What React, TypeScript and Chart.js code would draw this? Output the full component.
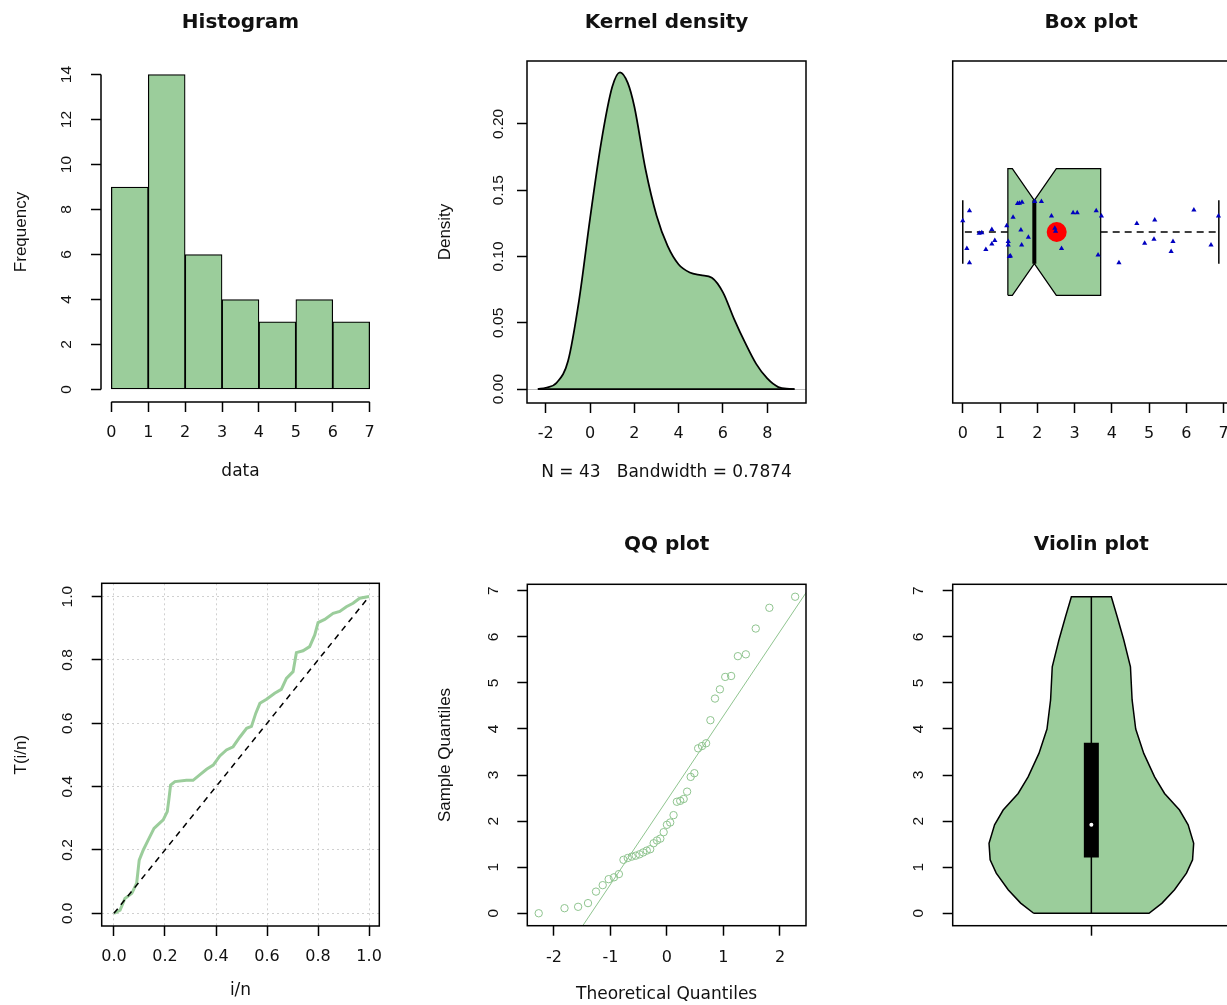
import React, { useEffect, useRef } from 'react';
import { Chart, registerables } from 'chart.js';

Chart.register(...registerables);

// ---------------- data ----------------
const histBreaks = [0, 1, 2, 3, 4, 5, 6, 7];
const histCounts = [9, 14, 6, 4, 3, 4, 3];
const histXTicks = [0, 1, 2, 3, 4, 5, 6, 7];
const histYTicks = [0, 2, 4, 6, 8, 10, 12, 14];

const densX = [-2.36, -2.0, -1.5, -1.0, -0.5, 0.0, 0.5, 1.0, 1.35, 1.7, 2.0, 2.5, 3.0, 3.5, 4.0, 4.5, 5.0, 5.5, 6.0, 6.5, 7.0, 7.5, 8.0, 8.5, 9.0, 9.23];
const densY = [0.0, 0.001, 0.005, 0.021, 0.067, 0.129, 0.186, 0.228, 0.239, 0.231, 0.213, 0.166, 0.131, 0.108, 0.094, 0.088, 0.086, 0.084, 0.073, 0.053, 0.035, 0.019, 0.008, 0.0015, 0.0002, 0.0];
const densXTicks = [-2, 0, 2, 4, 6, 8];
const densYTicks = [0, 0.05, 0.1, 0.15, 0.2];
const densSub = 'N = 43   Bandwidth = 0.7874';

// min, q1, notch low, median, notch high, q3, max
const boxStats = [0.0, 1.21, 1.33, 1.92, 2.51, 3.7, 6.87];
const boxMean = [2.52];
const jitterX = [0.18, 0.0, 0.11, 0.18, 0.51, 0.62, 0.78, 0.78, 0.86, 1.18, 1.22, 1.22, 1.28, 1.35, 1.52, 1.59, 1.56, 1.58, 1.76, 1.93, 2.11, 2.38, 2.47, 2.65, 2.96, 3.07, 3.58, 3.72, 3.63, 4.19, 4.67, 5.15, 4.88, 5.13, 5.64, 5.59, 6.2, 6.66, 6.86, 0.44, 2.49, 1.25, 1.47];
const jitterY = [0.562, 0.533, 0.452, 0.41, 0.498, 0.449, 0.507, 0.465, 0.475, 0.518, 0.472, 0.462, 0.43, 0.543, 0.584, 0.587, 0.506, 0.462, 0.485, 0.589, 0.589, 0.547, 0.511, 0.452, 0.556, 0.556, 0.562, 0.547, 0.433, 0.41, 0.525, 0.535, 0.467, 0.479, 0.472, 0.443, 0.564, 0.462, 0.547, 0.496, 0.502, 0.428, 0.583];
const boxXTicks = [0, 1, 2, 3, 4, 5, 6, 7];

const tttX = [0, 0.024, 0.043, 0.07, 0.089, 0.099, 0.115, 0.134, 0.157, 0.178, 0.193, 0.209, 0.215, 0.222, 0.239, 0.284, 0.31, 0.336, 0.363, 0.389, 0.415, 0.441, 0.467, 0.493, 0.52, 0.539, 0.556, 0.572, 0.598, 0.63, 0.656, 0.676, 0.702, 0.715, 0.741, 0.767, 0.787, 0.8, 0.826, 0.859, 0.885, 0.911, 0.937, 0.963, 1.0];
const tttY = [0, 0.01, 0.047, 0.063, 0.095, 0.168, 0.2, 0.231, 0.268, 0.284, 0.295, 0.321, 0.358, 0.405, 0.416, 0.42, 0.42, 0.437, 0.455, 0.468, 0.497, 0.516, 0.526, 0.556, 0.584, 0.59, 0.632, 0.663, 0.676, 0.695, 0.707, 0.742, 0.763, 0.823, 0.829, 0.842, 0.879, 0.918, 0.928, 0.947, 0.953, 0.968, 0.979, 0.995, 1.0];
const tttRef = [0, 1];
const tttTicks = [0, 0.2, 0.4, 0.6, 0.8, 1.0];

const qqTheo = [-2.268, -1.812, -1.571, -1.396, -1.255, -1.136, -1.031, -0.937, -0.85, -0.769, -0.693, -0.621, -0.552, -0.485, -0.42, -0.357, -0.296, -0.235, -0.176, -0.117, -0.058, 0, 0.058, 0.117, 0.176, 0.235, 0.296, 0.357, 0.42, 0.485, 0.552, 0.621, 0.693, 0.769, 0.85, 0.937, 1.031, 1.136, 1.255, 1.396, 1.571, 1.812, 2.268];
const qqSample = [0.0, 0.11, 0.14, 0.22, 0.47, 0.61, 0.74, 0.78, 0.85, 1.16, 1.2, 1.23, 1.25, 1.28, 1.32, 1.36, 1.39, 1.52, 1.58, 1.62, 1.76, 1.92, 1.97, 2.13, 2.42, 2.44, 2.48, 2.64, 2.96, 3.04, 3.58, 3.63, 3.69, 4.19, 4.66, 4.86, 5.13, 5.15, 5.58, 5.62, 6.18, 6.63, 6.87];
const qqLineX = [-2.5, 2.5];
const qqLineY = [-2.12, 7.03];
const qqXTicks = [-2, -1, 0, 1, 2];
const qqYTicks = [0, 1, 2, 3, 4, 5, 6, 7];

const violinY = [0, 0.22, 0.51, 0.87, 1.16, 1.52, 1.92, 2.24, 2.6, 2.96, 3.47, 4.0, 4.63, 5.35, 5.93, 6.44, 6.87];
const violinHalf = [0.208, 0.255, 0.3, 0.343, 0.365, 0.369, 0.349, 0.318, 0.264, 0.228, 0.189, 0.16, 0.147, 0.141, 0.117, 0.093, 0.072];
const violinBox = [1.21, 1.92, 3.7]; // q1, median, q3
const violinYTicks = [0, 1, 2, 3, 4, 5, 6, 7];
const violinXTicks = [1];

// ---------------- styling ----------------
const FONT = 'DejaVu Sans';
const VFONT = 'Liberation Sans';
const GREEN = '#9BCD9B';
const QQGREEN = '#8FC48F';
const TXT = '#111';

Chart.defaults.font.family = FONT;

type AxisOpts = {
  min: number; max: number; ticks: number[]; fmt?: (v: number) => string;
  size: number; tickPad: number; title?: string; titlePad?: number;
  vertical?: boolean; grid?: { color: any; dash: number[] }; hidden?: boolean;
};

function axis(o: AxisOpts) {
  return {
    type: 'linear',
    display: !o.hidden,
    min: o.min,
    max: o.max,
    offset: false,
    afterBuildTicks: (s: any) => {
      s.ticks = o.ticks.map((v) => ({ value: v }));
      s.min = o.min;
      s.max = o.max;
    },
    afterFit: (s: any) => {
      if (o.vertical) s.width = o.size; else s.height = o.size;
    },
    grid: {
      offset: false,
      drawOnChartArea: !!o.grid,
      color: o.grid ? o.grid.color : 'rgba(0,0,0,0)',
      lineWidth: 1,
      drawTicks: true,
      tickLength: 10,
      tickColor: '#000',
      tickWidth: 1.5,
    },
    border: { display: false, dash: o.grid ? o.grid.dash : [] },
    ticks: {
      autoSkip: false,
      padding: o.tickPad,
      color: TXT,
      font: o.vertical ? { family: VFONT, size: 15.5 } : { family: FONT, size: 16 },
      minRotation: o.vertical ? 90 : 0,
      maxRotation: o.vertical ? 90 : 0,
      crossAlign: o.vertical ? 'center' : 'near',
      callback: (v: any) => (o.fmt ? o.fmt(Number(v)) : String(v)),
    },
    title: o.title
      ? {
          display: true,
          text: o.title,
          color: TXT,
          font: o.vertical ? { family: VFONT, size: 17 } : { family: FONT, size: 17 },
          padding: o.vertical ? { top: o.titlePad, bottom: 0 } : { top: 0, bottom: o.titlePad },
        }
      : { display: false },
  };
}

const rFrame = {
  id: 'rFrame',
  afterDraw(chart: any, _a: any, opts: any) {
    const { ctx, chartArea: a } = chart;
    ctx.save();
    ctx.strokeStyle = '#000';
    ctx.lineWidth = 1.5;
    if (opts.box) {
      ctx.strokeRect(a.left, a.top, a.right - a.left, a.bottom - a.top);
    } else {
      const x = chart.scales.x;
      const y = chart.scales.y;
      const xs = x.ticks;
      const ys = y.ticks;
      ctx.beginPath();
      ctx.moveTo(x.getPixelForValue(xs[0].value), a.bottom);
      ctx.lineTo(x.getPixelForValue(xs[xs.length - 1].value), a.bottom);
      ctx.moveTo(a.left, y.getPixelForValue(ys[0].value));
      ctx.lineTo(a.left, y.getPixelForValue(ys[ys.length - 1].value));
      ctx.stroke();
    }
    ctx.restore();
  },
};

function baseOptions(p: any) {
  return {
    responsive: false,
    animation: false,
    devicePixelRatio: 1,
    events: [],
    layout: { padding: p.padding, autoPadding: false },
    plugins: {
      legend: { display: false },
      tooltip: { enabled: false },
      title: p.title
        ? {
            display: true,
            text: p.title.text,
            fullSize: false,
            color: TXT,
            font: { family: FONT, size: 20, weight: 'bold' },
            padding: { top: p.title.top, bottom: p.title.bottom },
          }
        : { display: false },
      rFrame: p.frame,
    },
    scales: { x: p.x, y: p.y },
  };
}

const lineDs = (data: any[], color: string, width: number, extra: any = {}) => ({
  data, showLine: true, borderColor: color, borderWidth: width, pointRadius: 0, tension: 0, fill: false, ...extra,
});

// ---------------- panel configs ----------------
function histConfig() {
  const data = histCounts.map((c, i) => ({ x: (histBreaks[i] + histBreaks[i + 1]) / 2, y: c }));
  return {
    type: 'bar',
    data: {
      datasets: [{
        data, backgroundColor: GREEN, borderColor: '#000', borderWidth: 1.25,
        borderSkipped: false, barPercentage: 1, categoryPercentage: 1,
      }],
    },
    options: baseOptions({
      padding: { left: 0, top: 0, right: 29, bottom: 0 },
      title: { text: 'Histogram', top: 11, bottom: 27 },
      frame: { box: false },
      x: axis({ min: -0.28, max: 7.28, ticks: histXTicks, size: 98, tickPad: 11, title: 'data', titlePad: 17.8 }),
      y: axis({ min: -0.56, max: 14.56, ticks: histYTicks, size: 101, tickPad: 15.4, title: 'Frequency', titlePad: 10.8, vertical: true }),
    }),
  };
}

function densConfig() {
  const pts = densX.map((x, i) => ({ x, y: densY[i] }));
  const base = [{ x: densX[0], y: 0 }, { x: densX[densX.length - 1], y: 0 }];
  return {
    type: 'scatter',
    data: {
      datasets: [
        lineDs(base, '#000', 1.75),
        lineDs(pts, '#000', 1.75, { fill: 'origin', backgroundColor: GREEN, cubicInterpolationMode: 'monotone' }),
      ],
    },
    options: baseOptions({
      padding: { left: 0, top: 0, right: 12, bottom: 0 },
      title: { text: 'Kernel density', top: 11, bottom: 26 },
      frame: { box: true },
      x: axis({ min: -2.85, max: 9.75, ticks: densXTicks, size: 97, tickPad: 11, title: densSub, titlePad: 16.8 }),
      y: axis({
        min: -0.0105, max: 0.2475, ticks: densYTicks, fmt: (v) => v.toFixed(2), size: 118, tickPad: 3,
        title: 'Density', titlePad: 25.8, vertical: true,
        grid: { color: (c: any) => (c.tick && c.tick.value === 0 ? '#bdbdbd' : 'rgba(0,0,0,0)'), dash: [] },
      }),
    }),
  };
}

function boxConfig() {
  const [mn, q1, nLo, med, nHi, q3, mx] = boxStats;
  const c = 0.5, h = 0.185, nh = 0.0925;
  const poly = [
    { x: q1, y: c - h }, { x: q1, y: c + h }, { x: nLo, y: c + h }, { x: med, y: c + nh },
    { x: nHi, y: c + h }, { x: q3, y: c + h }, { x: q3, y: c - h }, { x: nHi, y: c - h },
    { x: med, y: c - nh }, { x: nLo, y: c - h }, { x: q1, y: c - h },
  ];
  const jitter = jitterX.map((x, i) => ({ x, y: jitterY[i] }));
  return {
    type: 'scatter',
    data: {
      datasets: [
        { data: jitter, pointStyle: 'triangle', pointRadius: 3, backgroundColor: '#0000C0', borderColor: '#0000C0', borderWidth: 0 },
        { data: boxMean.map((x) => ({ x, y: c })), pointRadius: 10, backgroundColor: '#FF0000', borderWidth: 0 },
        lineDs([{ x: med, y: c - nh }, { x: med, y: c + nh }], '#000', 4),
        lineDs(poly, '#000', 1.25, { fill: 'shape', backgroundColor: GREEN }),
        lineDs([{ x: mn, y: c - nh }, { x: mn, y: c + nh }], '#000', 1.5),
        lineDs([{ x: mx, y: c - nh }, { x: mx, y: c + nh }], '#000', 1.5),
        lineDs([{ x: q1, y: c }, { x: mn, y: c }], '#000', 1.5, { borderDash: [7, 5] }),
        lineDs([{ x: q3, y: c }, { x: mx, y: c }], '#000', 1.5, { borderDash: [7, 5] }),
      ],
    },
    options: baseOptions({
      padding: { left: 134.7, top: 0, right: 10, bottom: 0 },
      title: { text: 'Box plot', top: 11, bottom: 26 },
      frame: { box: true },
      x: axis({ min: -0.27, max: 7.16, ticks: boxXTicks, size: 97, tickPad: 11 }),
      y: axis({ min: 0, max: 1, ticks: [0, 1], size: 0, tickPad: 0, vertical: true, hidden: true }),
    }),
  };
}

function tttConfig() {
  const pts = tttX.map((x, i) => ({ x, y: tttY[i] }));
  const ref = tttRef.map((v) => ({ x: v, y: v }));
  const grid = { color: '#d0d0d0', dash: [2, 3] };
  return {
    type: 'scatter',
    data: {
      datasets: [
        lineDs(ref, '#000', 1.5, { borderDash: [6, 5] }),
        lineDs(pts, GREEN, 3),
      ],
    },
    options: baseOptions({
      padding: { left: 0, top: 83.3, right: 29.7, bottom: 0 },
      title: null,
      frame: { box: true },
      x: axis({ min: -0.048, max: 1.04, ticks: tttTicks, fmt: (v) => v.toFixed(1), size: 79, tickPad: 10.9, title: 'i/n', titlePad: 3.8, grid }),
      y: axis({ min: -0.04, max: 1.042, ticks: tttTicks, fmt: (v) => v.toFixed(1), size: 101.7, tickPad: 13.2, title: 'T(i/n)', titlePad: 10.8, vertical: true, grid }),
    }),
  };
}

function qqConfig() {
  const pts = qqTheo.map((x, i) => ({ x, y: qqSample[i] }));
  const line = qqLineX.map((x, i) => ({ x, y: qqLineY[i] }));
  return {
    type: 'scatter',
    data: {
      datasets: [
        { data: pts, pointStyle: 'circle', pointRadius: 3.7, backgroundColor: 'rgba(0,0,0,0)', borderColor: QQGREEN, borderWidth: 1 },
        lineDs(line, QQGREEN, 1),
      ],
    },
    options: baseOptions({
      padding: { left: 0, top: 0, right: 12, bottom: 0 },
      title: { text: 'QQ plot', top: 33, bottom: 27.3 },
      frame: { box: true },
      x: axis({ min: -2.47, max: 2.46, ticks: qqXTicks, size: 79.3, tickPad: 12.2, title: 'Theoretical Quantiles', titlePad: 0.5 }),
      y: axis({ min: -0.27, max: 7.14, ticks: qqYTicks, size: 118.3, tickPad: 19.7, title: 'Sample Quantiles', titlePad: 25.8, vertical: true }),
    }),
  };
}

function violinConfig() {
  const left = violinY.map((y, i) => ({ x: 1 - violinHalf[i], y }));
  const right = violinY.map((y, i) => ({ x: 1 + violinHalf[i], y })).reverse();
  const poly = [...left, ...right, left[0]];
  const [q1, med, q3] = violinBox;
  return {
    type: 'scatter',
    data: {
      datasets: [
        { data: [{ x: 1, y: med }], pointStyle: 'circle', pointRadius: 2, backgroundColor: '#fff', borderWidth: 0 },
        lineDs([{ x: 1, y: q1 }, { x: 1, y: q3 }], '#000', 15),
        lineDs([{ x: 1, y: violinY[0] }, { x: 1, y: violinY[violinY.length - 1] }], '#000', 1.5),
        lineDs(poly, '#000', 1.5, { fill: 'shape', backgroundColor: GREEN }),
      ],
    },
    options: baseOptions({
      padding: { left: 0, top: 0, right: 10, bottom: 0 },
      title: { text: 'Violin plot', top: 33, bottom: 27.3 },
      frame: { box: true },
      x: axis({ min: 0.5, max: 1.5, ticks: violinXTicks, fmt: () => '', size: 79.3, tickPad: 12.2 }),
      y: axis({ min: -0.27, max: 7.14, ticks: violinYTicks, size: 134.7, tickPad: 19.7, vertical: true }),
    }),
  };
}

// ---------------- components ----------------
function Panel(props: { left: number; top: number; width: number; height: number; build: () => any }) {
  const ref = useRef<HTMLCanvasElement>(null);
  useEffect(() => {
    const cfg = props.build();
    cfg.plugins = [rFrame];
    const chart = new Chart(ref.current as HTMLCanvasElement, cfg);
    return () => chart.destroy();
  }, []);
  return (
    <canvas
      ref={ref}
      width={props.width}
      height={props.height}
      style={{ position: 'absolute', left: props.left, top: props.top, width: props.width, height: props.height }}
    />
  );
}

export default function App() {
  return (
    <div style={{ position: 'absolute', left: 0, top: 0, width: 1227, height: 1005, overflow: 'hidden', background: '#fff' }}>
      <Panel left={0} top={0} width={409} height={500} build={histConfig} />
      <Panel left={409} top={0} width={409} height={500} build={densConfig} />
      <Panel left={818} top={0} width={422} height={500} build={boxConfig} />
      <Panel left={0} top={500} width={409} height={505} build={tttConfig} />
      <Panel left={409} top={500} width={409} height={505} build={qqConfig} />
      <Panel left={818} top={500} width={422} height={505} build={violinConfig} />
    </div>
  );
}
